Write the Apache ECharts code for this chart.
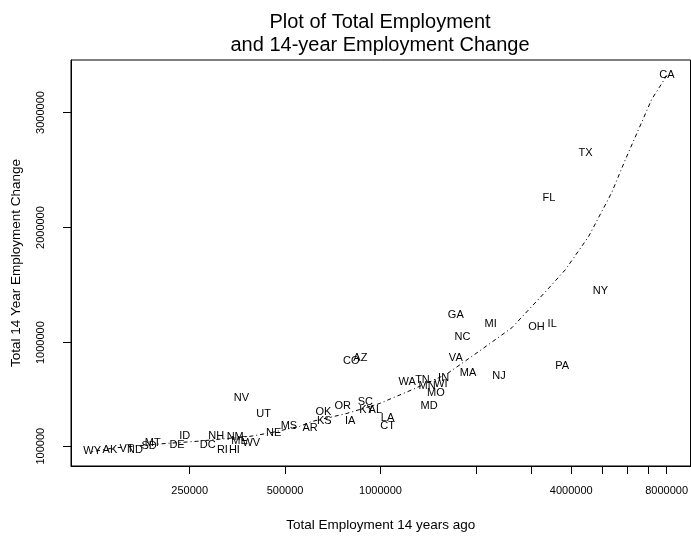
<!DOCTYPE html>
<html>
<head>
<meta charset="utf-8">
<script src="https://cdn.jsdelivr.net/npm/echarts@6/dist/echarts.min.js"></script>
<style>
  html, body { margin: 0; padding: 0; background: #fff; }
  #main { width: 691px; height: 537px; }
</style>
</head>
<body>
<div id="main"></div>
<script>
// state abbreviations, employment 14 years ago (x) and the change (y)
var states = ['WY','AK','VT','ND','SD','MT','DE','ID','DC','NH','RI','HI','NM','ME','WV','NV','UT','NE','MS','AR',
  'OK','KS','OR','IA','CO','AZ','SC','KY','AL','LA','CT','WA','TN','MN','MO','MD','WI','IN','VA','GA',
  'NC','MA','MI','NJ','OH','IL','PA','FL','TX','NY','CA'];
var employ14Ago = [123000,140000,158000,168000,186000,191000,228000,241000,285000,303000,317000,346000,348000,359000,391000,364000,428000,460000,514000,600000,
  661000,665000,760000,802000,809000,864000,896000,904000,963000,1053000,1053000,1214000,1357000,1404000,1496000,1424000,1551000,1582000,1729000,1729000,
  1814000,1890000,2228000,2367000,3106000,3483000,3745000,3400000,4438000,4948000,8017000];
var empChange = [61000,70000,78000,70000,104000,130000,110000,191000,113000,191000,70000,70000,180000,142000,128000,519000,383000,215000,274000,258000,
  394000,316000,452000,322000,843000,870000,481000,417000,411000,345000,272000,655000,678000,626000,563000,446000,641000,696000,867000,1243000,
  1046000,737000,1163000,713000,1133000,1163000,800000,2258000,2650000,1446000,3322000];

// smoothed trend line
var curveX = [123000,143000,206000,262000,386000,447000,555000,610000,779000,991000,1259000,1608000,2046000,2600000,3320000,3837000,4543000,5369000,5930000,6672000,7175000,8017000];
var curveY = [52000,84000,122000,142000,185000,215000,272000,316000,383000,470000,591000,722000,924000,1130000,1443000,1635000,1924000,2304000,2591000,2913000,3113000,3322000];

// ticks
var xTicks = [250000,500000,1000000,2000000,3000000,4000000,5000000,6000000,7000000,8000000];
var xLabels = [250000,500000,1000000,4000000,8000000];
var yTicks = [100000,1000000,2000000,3000000];

var font = 'Liberation Sans';

var points = states.map(function (s, i) {
  return { name: s, value: [employ14Ago[i], empChange[i]] };
});
var curve = curveX.map(function (x, i) { return [x, curveY[i]]; });

function plain(v) { return String(Math.round(v)); }

var option = {
  animation: false,
  title: {
    text: 'Plot of Total Employment\nand 14-year Employment Change',
    left: 375,
    top: 6,
    textAlign: 'center',
    textStyle: {
      fontFamily: font,
      fontSize: 20,
      fontWeight: 'normal',
      color: '#000',
      lineHeight: 23
    }
  },
  grid: {
    left: 71,
    right: -1,
    top: 60,
    bottom: 70,
    show: true,
    borderColor: '#000',
    borderWidth: 1
  },
  xAxis: {
    type: 'log',
    logBase: 2,
    min: 105500,
    max: 9520000,
    name: 'Total Employment 14 years ago',
    nameLocation: 'middle',
    nameGap: 52,
    nameTextStyle: { fontFamily: font, fontSize: 13.5, color: '#000' },
    axisLine: { show: true, onZero: false, lineStyle: { color: '#000', width: 1 } },
    axisTick: { show: true, length: 8, customValues: xTicks, lineStyle: { color: '#000' } },
    axisLabel: {
      customValues: xLabels,
      formatter: plain,
      margin: 19,
      fontFamily: font,
      fontSize: 11,
      color: '#000'
    },
    splitLine: { show: false },
    minorTick: { show: false }
  },
  yAxis: {
    type: 'value',
    min: -72000,
    max: 3456000,
    name: 'Total 14 Year Employment Change',
    nameLocation: 'middle',
    nameGap: 48,
    nameTextStyle: { fontFamily: font, fontSize: 13.5, color: '#000' },
    axisLine: { show: true, onZero: false, lineStyle: { color: '#000', width: 1 } },
    axisTick: { show: true, length: 8, customValues: yTicks, lineStyle: { color: '#000' } },
    axisLabel: {
      customValues: yTicks,
      formatter: plain,
      rotate: 90,
      margin: 25,
      fontFamily: font,
      fontSize: 11,
      color: '#000'
    },
    splitLine: { show: false }
  },
  series: [
    {
      type: 'line',
      data: curve,
      showSymbol: false,
      silent: true,
      lineStyle: { color: '#000', width: 1, type: [1, 3, 4, 3] }
    },
    {
      type: 'scatter',
      data: points,
      symbolSize: 0,
      itemStyle: { opacity: 1 },
      label: {
        show: true,
        position: 'inside',
        formatter: '{b}',
        fontFamily: font,
        fontSize: 11,
        color: '#000',
        opacity: 1
      }
    }
  ]
};

echarts.init(document.getElementById('main')).setOption(option);
</script>
</body>
</html>
